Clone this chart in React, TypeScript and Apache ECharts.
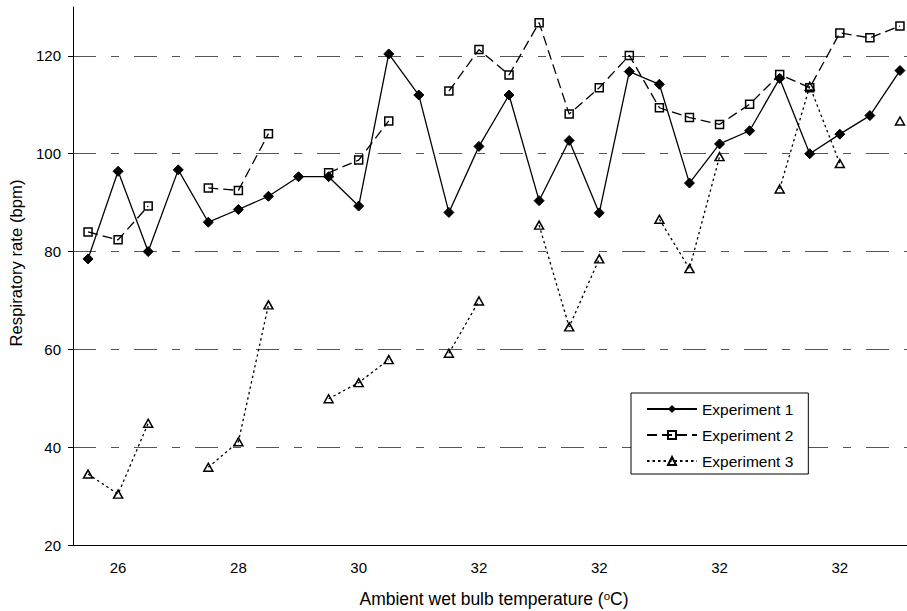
import React, { useEffect, useRef } from "react";
import * as echarts from "echarts";

const tickLabels = ["26", "28", "30", "32", "32", "32", "32"];
const categories: string[] = Array.from({ length: 28 }, (_, i) =>
  i % 4 === 1 ? tickLabels[(i - 1) / 4] : ""
);

const experiment1 = [
  78.5, 96.4, 80.0, 96.7, 86.0, 88.6, 91.3, 95.3, 95.3, 89.3, 120.4, 112.0, 88.0, 101.5,
  112.0, 90.4, 102.7, 87.9, 116.8, 114.2, 94.0, 102.0, 104.7, 115.4, 100.0, 104.0, 107.8, 117.0,
];
const experiment2 = [
  84.0, 82.4, 89.3, null, 93.0, 92.5, 104.1, null, 96.1, 98.7, 106.7, null, 112.8, 121.3,
  116.1, 126.8, 108.1, 113.5, 120.1, 109.4, 107.4, 106.0, 110.1, 116.2, 113.5, 124.7, 123.7, 126.1,
];
const experiment3 = [
  34.5, 30.4, 44.9, null, 35.9, 41.1, 69.1, null, 49.9, 53.2, 57.9, null, 59.2, 69.9,
  null, 85.4, 64.6, 78.5, null, 86.6, 76.5, 99.4, null, 92.8, 113.8, 98.0, null, 106.7,
];

const yMin = 20;
const yMax = 130;
const yStep = 20;

const FONT = "'Liberation Sans', Arial, sans-serif";

export default function App() {
  const ref = useRef<HTMLDivElement>(null);
  useEffect(() => {
    if (!ref.current) return;
    const chart = echarts.init(ref.current, undefined, { renderer: "svg" });
    const gridColors = ["rgba(0,0,0,0)", "#555", "#555", "#555", "#555", "#555", "rgba(0,0,0,0)"];
    const transparent = "rgba(255,255,255,0)";
    chart.setOption({
      animation: false,
      backgroundColor: "#fff",
      textStyle: { fontFamily: FONT },
      grid: { left: 73, top: 7, width: 842, bottom: 66, outerBoundsMode: "none", containLabel: false },
      legend: {
        orient: "vertical",
        left: 631,
        top: 393,
        backgroundColor: "#fff",
        borderColor: "#000",
        borderWidth: 1,
        borderRadius: 0,
        padding: [8, 15, 5, 15],
        itemWidth: 50,
        itemHeight: 10,
        itemGap: 10,
        textStyle: { fontSize: 15.5, color: "#000", fontFamily: FONT },
        data: ["Experiment 1", "Experiment 2", "Experiment 3"],
      },
      xAxis: {
        type: "category",
        data: categories,
        boundaryGap: true,
        name: "{base|Ambient wet bulb temperature (}{sup|o}{base|C)}",
        nameLocation: "middle",
        nameGap: 45,
        nameTextStyle: {
          fontSize: 17.5,
          color: "#000",
          fontFamily: FONT,
          rich: {
            base: { fontSize: 17.5, color: "#000", fontFamily: FONT, verticalAlign: "bottom" },
            sup: { fontSize: 11.5, verticalAlign: "top", color: "#000", fontFamily: FONT },
          },
        },
        axisLine: { show: true, lineStyle: { color: "#000", width: 1 } },
        axisTick: { show: false },
        axisLabel: {
          interval: (i: number) => i % 4 === 1,
          fontSize: 15,
          color: "#000",
          margin: 15,
          fontFamily: FONT,
        },
        splitLine: { show: false },
      },
      yAxis: {
        type: "value",
        min: yMin,
        max: yMax,
        interval: yStep,
        name: "Respiratory rate (bpm)",
        nameLocation: "middle",
        nameGap: 45,
        nameTextStyle: { fontSize: 16.7, color: "#000", fontFamily: FONT, padding: [0, 0, 0, 26] },
        axisLine: { show: true, lineStyle: { color: "#000", width: 1 } },
        axisTick: { show: true, length: 5, lineStyle: { color: "#000" } },
        axisLabel: {
          fontSize: 15,
          color: "#000",
          margin: 12,
          showMaxLabel: false,
          fontFamily: FONT,
        },
        splitLine: {
          show: true,
          lineStyle: { color: gridColors, width: 1, type: [23, 15, 8, 15] },
        },
      },
      series: [
        {
          name: "Experiment 1",
          type: "line",
          data: experiment1,
          symbol: "diamond",
          symbolSize: 10,
          showSymbol: true,
          lineStyle: { color: "#000", width: 1.3, type: "solid" },
          itemStyle: { color: "#000", borderColor: "#000" },
          z: 3,
        },
        {
          name: "Experiment 2",
          type: "line",
          data: experiment2,
          symbol: "rect",
          symbolSize: 8,
          showSymbol: true,
          connectNulls: false,
          lineStyle: { color: "#000", width: 1.3, type: [10, 5] },
          itemStyle: { color: transparent, borderColor: "#000", borderWidth: 1.5 },
          z: 2,
        },
        {
          name: "Experiment 3",
          type: "line",
          data: experiment3,
          symbol: "triangle",
          symbolSize: [9, 8],
          showSymbol: true,
          connectNulls: false,
          lineStyle: { color: "#000", width: 1.3, type: [2.5, 3] },
          itemStyle: { color: transparent, borderColor: "#000", borderWidth: 1.5 },
          z: 2,
        },
      ],
    });
    return () => chart.dispose();
  }, []);
  return <div ref={ref} style={{ width: 907, height: 611, position: "absolute", left: 0, top: 0 }} />;
}
